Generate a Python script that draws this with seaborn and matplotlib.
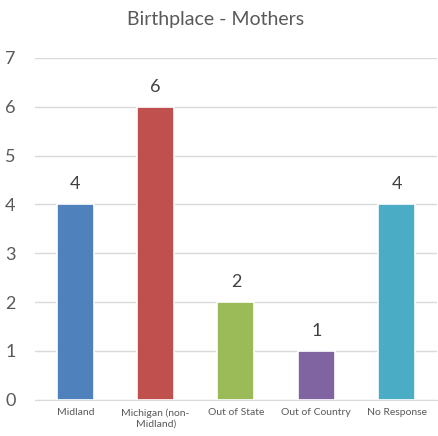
import matplotlib
matplotlib.use('Agg')
import pandas as pd
import seaborn as sns
import matplotlib.pyplot as plt
import numpy as np

# data
categories = ['Midland', 'Michigan (non-\nMidland)', 'Out of State', 'Out of Country', 'No Response']
counts = [4, 6, 2, 1, 4]
colors = ['#4F81BD', '#C0504D', '#9BBB59', '#8064A2', '#4BACC6']

df = pd.DataFrame({'place': categories, 'count': counts})

sns.set_style('white')
plt.rcParams['font.family'] = ['Lato', 'DejaVu Sans']

fig = plt.figure(figsize=(4.39, 4.36), dpi=100)
ax = fig.add_axes([0.08, 0.083, 0.915, 0.784])

sns.barplot(data=df, x='place', y='count', hue='place', palette=colors, legend=False,
            saturation=1, width=0.46, edgecolor='white', linewidth=1.2, ax=ax, zorder=3)

ax.set_ylim(0, 7)
ax.set_xlim(-0.5, len(categories) - 0.5)
ax.set_yticks(range(0, 8))
ax.yaxis.grid(True, color='#D9D9D9', linewidth=1, zorder=0)
ax.set_axisbelow(True)

for i, v in enumerate(counts):
    ax.text(i, v + 0.25, str(v), ha='center', va='bottom', fontsize=13, color='#404040')

for s in ['top', 'right', 'left']:
    ax.spines[s].set_visible(False)
ax.spines['bottom'].set_color('#D9D9D9')

ax.tick_params(axis='y', length=0, labelsize=13, labelcolor='#595959', pad=14)
ax.tick_params(axis='x', which='major', length=0, labelsize=7.5, labelcolor='#595959', pad=6)
ax.set_xticks(np.arange(-0.5, len(categories)), minor=True)
ax.tick_params(axis='x', which='minor', length=4, color='#D9D9D9', width=1)
ax.set_xlabel('')
ax.set_ylabel('')

fig.suptitle('Birthplace - Mothers', x=0.49, y=0.975, fontsize=14, color='#595959')

fig.savefig('out.png', dpi=100)
